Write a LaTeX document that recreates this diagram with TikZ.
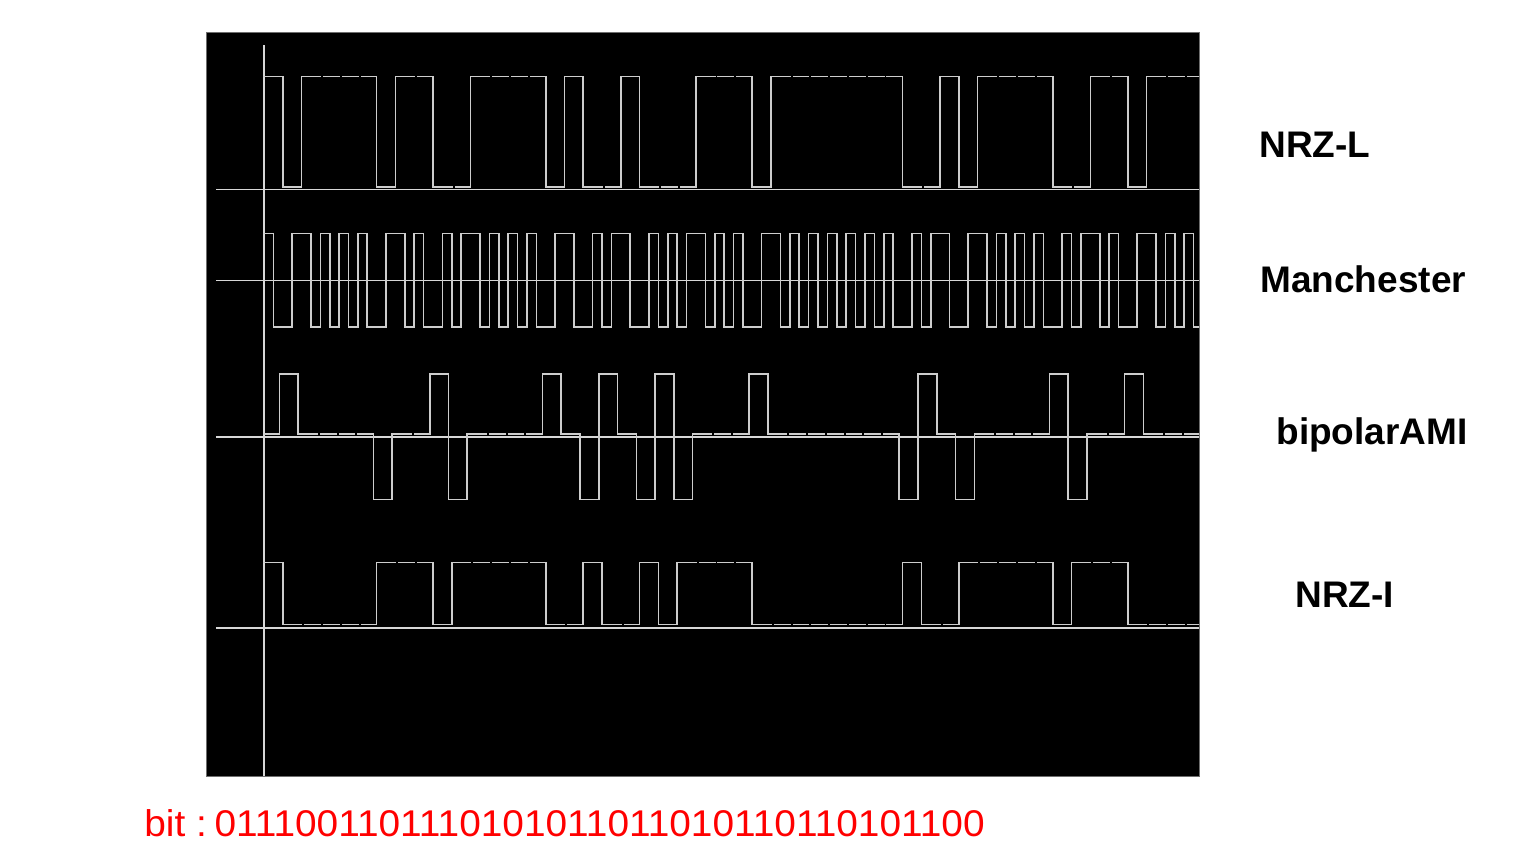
\documentclass[tikz,border=0pt]{standalone}
\usepackage{fontspec}
\setmainfont{Liberation Sans}
\definecolor{wavecol}{RGB}{205,205,205}
\definecolor{axiscol}{RGB}{215,215,215}
\definecolor{framecol}{RGB}{110,110,110}
\definecolor{bitred}{RGB}{255,0,0}
\def\bitT{18.78}
\tikzset{
  wave/.style={draw=wavecol, line width=0.8pt, line cap=rect, line join=miter},
  axisline/.style={draw=axiscol, line width=0.8pt},
  siglabel/.style={font=\fontsize{18.5}{22}\selectfont\bfseries, text=black, inner sep=0pt, anchor=base west},
  bittext/.style={font=\fontsize{18.6}{22}\selectfont, text=bitred, inner sep=0pt, anchor=base west},
}
% #1 x start, #2 gap, #3 y(code 1), #4 y(code 0), #5 y(code -1), #6 list macro
\newcommand\wavedraw[6]{%
  \foreach \cd [count=\k from 0, remember=\cd as \pc (initially 9)] in #6 {%
    \pgfmathsetmacro\xa{#1+\k*\bitT}%
    \pgfmathsetmacro\xb{\xa+\bitT}%
    \pgfmathsetmacro\yv{\cd==1 ? #3 : (\cd==0 ? #4 : #5)}%
    \ifnum\pc=9
      \draw[wave] (\xa,\yv) -- (\xb,\yv);
    \else\ifnum\pc=\cd
      \draw[wave] (\xa+#2,\yv) -- (\xb,\yv);
    \else
      \pgfmathsetmacro\yp{\pc==1 ? #3 : (\pc==0 ? #4 : #5)}%
      \draw[wave] (\xa,\yp) -- (\xa,\yv) -- (\xb,\yv);
    \fi\fi
  }%
}
% #1 x start, #2 high y, #3 low y, #4 list macro
\newcommand\manchdraw[4]{%
  \foreach \cd [count=\k from 0, remember=\cd as \pc (initially 9)] in #4 {%
    \pgfmathsetmacro\xa{#1+\k*\bitT}%
    \pgfmathsetmacro\xm{\xa+0.5*\bitT}%
    \pgfmathsetmacro\xb{\xa+\bitT}%
    \pgfmathsetmacro\ya{\cd==1 ? #2 : #3}%
    \pgfmathsetmacro\yb{\cd==1 ? #3 : #2}%
    \ifnum\pc=\cd
      \draw[wave] (\xa,\yb) -- (\xa,\ya) -- (\xm,\ya) -- (\xm,\yb) -- (\xb,\yb);
    \else
      \draw[wave] (\xa,\ya) -- (\xm,\ya) -- (\xm,\yb) -- (\xb,\yb);
    \fi
  }%
}
\def\nrzl{1,0,1,1,1,1,0,1,1,0,0,1,1,1,1,0,1,0,0,1,0,0,0,1,1,1,0,1,1,1,1,1,1,1,0,0,1,0,1,1,1,1,0,0,1,1,0,1,1,1}
\def\ami{0,1,0,0,0,0,-1,0,0,1,-1,0,0,0,0,1,0,-1,1,0,-1,1,-1,0,0,0,1,0,0,0,0,0,0,0,-1,1,0,-1,0,0,0,0,1,-1,0,0,1,0,0,0}
\def\nrzi{1,0,0,0,0,0,1,1,1,0,1,1,1,1,1,0,0,1,0,0,1,0,1,1,1,1,0,0,0,0,0,0,0,0,1,0,0,1,1,1,1,1,0,1,1,1,0,0,0,0}
\begin{document}
\begin{tikzpicture}[x=0.5pt,y=-0.5pt]
\useasboundingbox (0,0) rectangle (1518,857);
% scope screen
\fill[black, draw=framecol, line width=0.3pt] (206,32) rectangle (1199,776);
% axes
\draw[axisline] (263.7,45) -- (263.7,776);
\draw[axisline] (216,189.5) -- (1199,189.5);
\draw[axisline] (216,280.5) -- (1199,280.5);
\draw[axisline] (216,437) -- (1199,437);
\draw[axisline] (216,628) -- (1199,628);
% waveforms
\begin{scope}
  \clip (206,32) rectangle (1199,776);
  \wavedraw{264}{3.5}{76.5}{187}{187}{\nrzl}
  \manchdraw{264}{233.5}{327}{\nrzl}
  \wavedraw{264}{3.5}{562.5}{624.5}{624.5}{\nrzi}
\end{scope}
\begin{scope}
  \clip (263.7,32) rectangle (1199,776);
  \wavedraw{260.7}{3.5}{374}{434}{499.5}{\ami}
\end{scope}
% labels
\node[siglabel] (lnrzl) at (1259,157) {NRZ-L};
\node[siglabel] (lman) at (1260,292) {Manchester};
\node[siglabel] (lami) at (1276,444) {bipolarAMI};
\node[siglabel] (lnrzi) at (1295,607) {NRZ-I};
\node[bittext] (bits) at (144,836) {\scalebox{1.044}[1]{bit :\hspace{3.6pt}0111001101110101011011010110110101100}};
\end{tikzpicture}
\end{document}
